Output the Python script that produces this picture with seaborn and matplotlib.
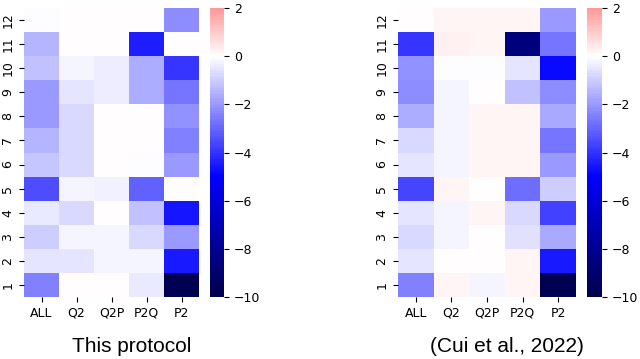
import numpy as np
import pandas as pd
import matplotlib
matplotlib.use("Agg")
import matplotlib.pyplot as plt
import seaborn as sns

columns = ["ALL", "Q2", "Q2P", "P2Q", "P2"]
layers = [str(i) for i in range(1, 13)]  # bottom (1) to top (12)

# values per layer 1..12 for each column — "This protocol"
this_all = [-2.5, -0.5, -1.0, -0.45, -3.5, -1.1, -1.5, -2.0, -2.0, -1.25, -1.5, -0.05]
this_q2  = [0.0, -0.5, -0.25, -0.75, -0.25, -0.75, -0.75, -0.75, -0.5, -0.2, 0.0, 0.0]
this_q2p = [0.0, -0.2, -0.25, 0.0, -0.3, 0.0, 0.0, 0.0, -0.35, -0.35, 0.0, 0.0]
this_p2q = [-0.45, -0.2, -0.75, -1.25, -3.1, -0.05, 0.0, 0.0, -1.65, -1.65, -4.4, 0.0]
this_p2  = [-9.8, -4.5, -2.0, -4.6, 0.0, -2.0, -2.5, -2.15, -2.65, -4.0, 0.0, -2.2]

# (Cui et al., 2022)
cui_all = [-2.5, -0.5, -0.75, -0.5, -3.6, -0.5, -0.75, -1.6, -2.25, -2.15, -4.0, 0.0]
cui_q2  = [0.15, 0.0, -0.2, -0.2, 0.15, -0.2, -0.2, -0.25, -0.2, -0.1, 0.25, 0.2]
cui_q2p = [-0.25, 0.05, 0.0, 0.15, 0.0, 0.15, 0.2, 0.15, 0.0, -0.1, 0.15, 0.2]
cui_p2q = [0.15, 0.15, -0.6, -0.75, -2.85, 0.15, 0.15, 0.15, -1.25, -0.5, -8.6, 0.2]
cui_p2  = [-9.8, -4.5, -1.75, -3.75, -1.0, -2.0, -2.65, -1.75, -2.25, -4.8, -2.65, -2.0]

titles = ["This protocol", "(Cui et al., 2022)"]


def make_df(a, b, c, d, e):
    df = pd.DataFrame({"ALL": a, "Q2": b, "Q2P": c, "P2Q": d, "P2": e}, index=layers)
    return df.iloc[::-1]


df_this = make_df(this_all, this_q2, this_q2p, this_p2q, this_p2)
df_cui = make_df(cui_all, cui_q2, cui_q2p, cui_p2q, cui_p2)

fig = plt.figure(figsize=(6.4, 3.59), dpi=100)
W, H = 640, 359
y0 = 1 - 297 / H
h = 289 / H

specs = [
    (df_this, 24, 175, 210, 14, 132, titles[0]),
    (df_cui, 398, 178, 587, 15, 507, titles[1]),
]
for df, ax_x, ax_w, cb_x, cb_w, tx, title in specs:
    ax = fig.add_axes([ax_x / W, y0, ax_w / W, h])
    cax = fig.add_axes([cb_x / W, y0, cb_w / W, h])
    sns.heatmap(df, ax=ax, cbar_ax=cax, cmap="seismic", center=0, vmin=-10, vmax=2,
                cbar_kws={"ticks": [2, 0, -2, -4, -6, -8, -10]})
    ax.tick_params(labelsize=9)
    cax.tick_params(labelsize=9)
    for s in cax.spines.values():
        s.set_visible(False)
    fig.text(tx / W, 1 - 347 / H, title, ha="center", va="center",
             fontsize=15, family="Liberation Sans")

fig.savefig("out.png", dpi=100)
